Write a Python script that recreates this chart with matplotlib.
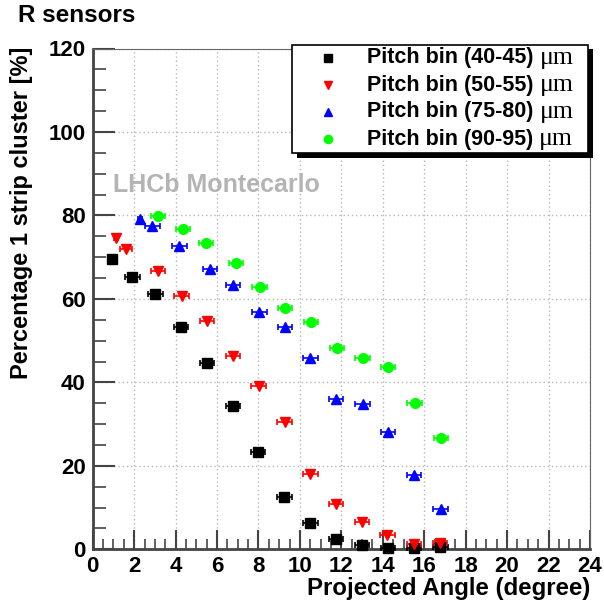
import matplotlib
matplotlib.use("Agg")
import matplotlib.pyplot as plt
from matplotlib.lines import Line2D
from matplotlib.patches import Rectangle
from matplotlib.ticker import MultipleLocator

plt.rcParams['font.family'] = ['Liberation Sans', 'DejaVu Sans']

# Fraction of single-strip clusters vs projected track angle, per pitch bin
angle_40 = [0.91, 1.92, 3.03, 4.26, 5.51, 6.78, 7.98, 9.25, 10.50, 11.75, 13.00, 14.25, 15.50, 16.78]
eff_40 = [69.5, 65.3, 61.1, 53.2, 44.7, 34.4, 23.3, 12.6, 6.3, 2.5, 1.0, 0.4, 0.3, 0.5]
err_40 = [0.10, 0.35, 0.35, 0.35, 0.35, 0.35, 0.35, 0.35, 0.35, 0.35, 0.35, 0.35, 0.35, 0.35]

angle_50 = [1.12, 1.62, 3.15, 4.29, 5.52, 6.76, 8.01, 9.26, 10.50, 11.75, 13.00, 14.22, 15.50, 16.77]
eff_50 = [74.7, 72.0, 66.7, 60.8, 54.6, 46.2, 39.2, 30.4, 18.1, 10.8, 6.5, 3.4, 1.3, 1.5]
err_50 = [0.10, 0.30, 0.35, 0.35, 0.35, 0.35, 0.35, 0.35, 0.35, 0.35, 0.35, 0.35, 0.35, 0.35]

angle_75 = [2.29, 2.88, 4.18, 5.66, 6.76, 8.04, 9.28, 10.51, 11.75, 13.03, 14.26, 15.51, 16.79]
eff_75 = [79.2, 77.5, 72.6, 67.1, 63.4, 56.9, 53.3, 45.9, 36.1, 34.7, 28.2, 17.8, 9.7]
err_75 = [0.10, 0.35, 0.35, 0.35, 0.35, 0.35, 0.35, 0.35, 0.35, 0.35, 0.35, 0.35, 0.35]

angle_90 = [3.15, 4.36, 5.46, 6.92, 8.06, 9.28, 10.54, 11.78, 13.03, 14.25, 15.54, 16.81]
eff_90 = [79.9, 76.7, 73.4, 68.6, 62.9, 57.7, 54.5, 48.2, 45.8, 43.6, 35.1, 26.7]
err_90 = [0.35, 0.35, 0.35, 0.35, 0.35, 0.35, 0.35, 0.35, 0.35, 0.35, 0.35, 0.35]

labels = ["Pitch bin (40-45)", "Pitch bin (50-55)", "Pitch bin (75-80)", "Pitch bin (90-95)"]
series = [
    (angle_40, eff_40, err_40, 's', 'black', 6.5),
    (angle_50, eff_50, err_50, 'v', '#ff0000', 7),
    (angle_75, eff_75, err_75, '^', '#0000ff', 6.5),
    (angle_90, eff_90, err_90, 'o', '#00ff00', 7),
]

W, H = 604, 607
fig = plt.figure(figsize=(W / 100, H / 100), dpi=100)
ax = fig.add_axes([92.7 / W, 1 - 549.3 / H, (590 - 92.7) / W, (549.3 - 48.5) / H])

for x, y, xe, mk, col, ms in series:
    ax.errorbar(x, y, xerr=xe, fmt=mk, color=col, ms=ms, mec=col, ecolor=col,
                elinewidth=1.2, capsize=2.2, capthick=1.2, zorder=3, clip_on=False)

ax.set_xlim(0, 24)
ax.set_ylim(0, 120)
ax.xaxis.set_major_locator(MultipleLocator(2))
ax.xaxis.set_minor_locator(MultipleLocator(0.5))
ax.yaxis.set_major_locator(MultipleLocator(20))
ax.yaxis.set_minor_locator(MultipleLocator(5))
ax.grid(True, which='major', color='#b8b8b8', linestyle=(0, (1, 2)), linewidth=1.0, zorder=0)

ax.tick_params(axis='both', which='both', direction='in', color='#444444',
               top=False, right=False, labelsize=16)
ax.tick_params(axis='x', which='major', length=14, width=1.5, pad=5)
ax.tick_params(axis='x', which='minor', length=7, width=1.2)
ax.tick_params(axis='y', which='major', length=16, width=1.5, pad=5)
ax.tick_params(axis='y', which='minor', length=9, width=1.2)
for lab in ax.get_xticklabels() + ax.get_yticklabels():
    lab.set_fontweight('bold')

for side in ('left', 'bottom'):
    ax.spines[side].set_linewidth(2.0)
    ax.spines[side].set_color('#444444')
for side in ('top', 'right'):
    ax.spines[side].set_linewidth(0.8)
    ax.spines[side].set_color('#666666')

ax.text(0.98, 87.2, "LHCb Montecarlo", color='#b4b4b4', fontsize=18,
        fontweight='bold', ha='left', va='center')

fig.text(590 / W, 1 - 589 / H, "Projected Angle (degree)", ha='right', va='center',
         fontsize=17.3, fontweight='bold')
fig.text(22 / W, 1 - 47 / H, "Percentage 1 strip cluster [%]", ha='center', va='top',
         rotation=90, fontsize=17, fontweight='bold')
fig.text(18 / W, 1 - 16 / H, "R sensors", ha='left', va='center',
         fontsize=17.5, fontweight='bold')

# Legend box with a solid drop shadow
fig.patches.append(Rectangle((297 / W, 1 - 158 / H), (593 - 297) / W, (158 - 49) / H,
                             transform=fig.transFigure, facecolor='black',
                             edgecolor='none', zorder=5))
fig.patches.append(Rectangle((291.5 / W, 1 - 153 / H), (588 - 291.5) / W, (153 - 45) / H,
                             transform=fig.transFigure, facecolor='white',
                             edgecolor='black', linewidth=1.2, zorder=6))
rows = [58, 85, 112, 139]
renderer = fig.canvas.get_renderer()
for (x, y, xe, mk, col, ms), lab, ry in zip(series, labels, rows):
    fig.add_artist(Line2D([328 / W], [1 - ry / H], marker=mk, color=col, ms=ms * 0.85,
                          linestyle='none', transform=fig.transFigure, zorder=7))
    t = fig.text(367 / W, 1 - ry / H, lab + " ", ha='left', va='center',
                 fontsize=15.5, fontweight='bold', zorder=7)
    bb = t.get_window_extent(renderer)
    fig.text(bb.x1 / W, 1 - ry / H, "μm", ha='left', va='center',
             fontsize=18.5, family=['Liberation Serif', 'DejaVu Serif'], zorder=7)

fig.savefig("out.png", dpi=100)
